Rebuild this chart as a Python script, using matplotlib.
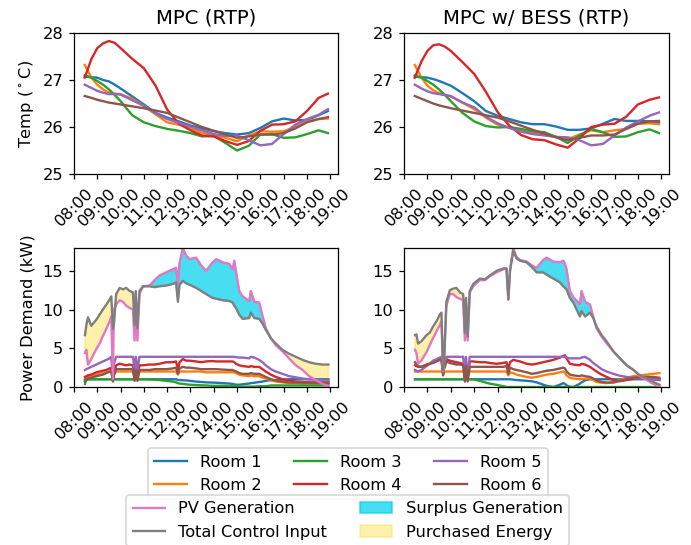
import matplotlib
matplotlib.use("Agg")
import matplotlib.pyplot as plt
import numpy as np

# ---------------- data ----------------
TICK_HOURS = list(range(8, 20))
TICK_LABELS = [f"{h:02d}:00" for h in TICK_HOURS]
ROOM_NAMES = ["Room 1", "Room 2", "Room 3", "Room 4", "Room 5", "Room 6"]
ROOM_COLORS = ["tab:blue", "tab:orange", "tab:green", "tab:red", "tab:purple", "tab:brown"]

TEMP_HOURS = [8.46, 8.75, 9.0, 9.25, 9.5, 9.75, 10.0, 10.5, 11.0, 11.5, 12.0, 12.5, 13.0,
              13.5, 14.0, 14.5, 15.0, 15.5, 16.0, 16.5, 17.0, 17.5, 18.0, 18.5, 18.9]

# MPC (RTP) temperatures
T1_L = [27.07, 27.06, 27.05, 27.0, 26.97, 26.9, 26.82, 26.65, 26.48, 26.3, 26.2, 26.12, 26.03,
        25.97, 25.91, 25.87, 25.84, 25.87, 25.98, 26.12, 26.18, 26.14, 26.15, 26.25, 26.34]
T2_L = [27.32, 27.05, 26.9, 26.8, 26.73, 26.71, 26.7, 26.6, 26.45, 26.27, 26.1, 26.05, 25.98,
        25.88, 25.82, 25.77, 25.7, 25.82, 25.91, 25.9, 25.91, 26.0, 26.12, 26.17, 26.18]
T3_L = [27.1, 27.05, 26.98, 26.9, 26.8, 26.68, 26.55, 26.25, 26.1, 26.02, 25.96, 25.92, 25.87,
        25.8, 25.81, 25.66, 25.5, 25.6, 25.84, 25.85, 25.77, 25.78, 25.85, 25.93, 25.87]
T4_L = [27.05, 27.45, 27.68, 27.78, 27.83, 27.79, 27.68, 27.45, 27.25, 26.88, 26.37, 26.07, 25.93,
        25.82, 25.8, 25.7, 25.62, 25.7, 25.92, 26.05, 26.06, 26.12, 26.34, 26.62, 26.71]
T5_L = [26.9, 26.83, 26.77, 26.73, 26.7, 26.7, 26.69, 26.57, 26.45, 26.29, 26.17, 26.09, 26.01,
        25.93, 25.85, 25.81, 25.82, 25.72, 25.61, 25.64, 25.85, 26.05, 26.17, 26.26, 26.38]
T6_L = [26.66, 26.62, 26.58, 26.55, 26.52, 26.5, 26.48, 26.44, 26.4, 26.35, 26.3, 26.2, 26.1,
        26.0, 25.92, 25.84, 25.77, 25.8, 25.84, 25.84, 25.87, 25.97, 26.1, 26.17, 26.21]

# MPC w/ BESS (RTP) temperatures
T1_R = [27.07, 27.06, 27.05, 27.02, 26.98, 26.93, 26.88, 26.72, 26.55, 26.34, 26.24, 26.17, 26.1,
        26.06, 26.06, 26.01, 25.94, 25.94, 25.97, 26.07, 26.17, 26.13, 26.13, 26.12, 26.1]
T2_R = [27.32, 27.05, 26.88, 26.78, 26.72, 26.68, 26.65, 26.52, 26.38, 26.2, 26.05, 25.99, 25.93,
        25.88, 25.84, 25.79, 25.74, 25.84, 25.93, 25.89, 25.93, 25.96, 26.07, 26.08, 26.06]
T3_R = [27.1, 27.05, 26.98, 26.9, 26.8, 26.68, 26.55, 26.3, 26.12, 26.02, 25.99, 26.0, 25.96,
        25.91, 25.89, 25.79, 25.66, 25.82, 25.96, 25.89, 25.79, 25.8, 25.89, 25.95, 25.87]
T4_R = [27.05, 27.4, 27.62, 27.74, 27.76, 27.71, 27.62, 27.38, 27.13, 26.75, 26.32, 26.03, 25.83,
        25.74, 25.72, 25.63, 25.56, 25.76, 26.0, 26.05, 26.07, 26.22, 26.48, 26.58, 26.63]
T5_R = [26.9, 26.82, 26.76, 26.72, 26.7, 26.68, 26.66, 26.52, 26.42, 26.22, 26.08, 25.98, 25.9,
        25.85, 25.82, 25.79, 25.78, 25.72, 25.61, 25.64, 25.82, 25.99, 26.12, 26.24, 26.31]
T6_R = [26.66, 26.6, 26.55, 26.5, 26.46, 26.43, 26.4, 26.35, 26.3, 26.25, 26.2, 26.12, 26.03,
        25.94, 25.86, 25.78, 25.72, 25.77, 25.82, 25.82, 25.84, 25.96, 26.07, 26.12, 26.13]

POWER_HOURS = [8.47, 8.53, 8.60, 8.74, 8.96, 9.10, 9.24, 9.39, 9.53, 9.60, 9.67, 9.71, 9.81,
               9.96, 10.10, 10.24, 10.39, 10.53, 10.60, 10.65, 10.72, 10.81, 10.96, 11.24,
               11.46, 11.67, 11.96, 12.24, 12.38, 12.46, 12.53, 12.67, 12.81, 12.96, 13.24,
               13.46, 13.67, 13.95, 14.10, 14.38, 14.67, 14.81, 14.88, 14.95, 15.09, 15.24,
               15.52, 15.59, 15.74, 15.95, 16.09, 16.23, 16.45, 16.66, 16.95, 17.23, 17.52,
               17.81, 18.09, 18.38, 18.66, 18.92]

# MPC (RTP) power
TOTAL_L = [6.7, 8.0, 9.0, 7.9, 8.7, 9.35, 10.0, 10.65, 11.3, 11.7, 7.5, 8.0, 12.0,
           12.8, 12.6, 12.8, 12.4, 12.2, 8.0, 12.4, 7.6, 12.4, 13.0, 13.0,
           12.9, 13.0, 13.1, 13.3, 13.5, 11.0, 13.2, 13.7, 13.4, 13.2, 12.8,
           12.4, 12.0, 11.5, 11.4, 11.2, 11.1, 10.9, 10.5, 10.2, 9.35, 8.8,
           8.9, 9.6, 8.9, 8.8, 8.2, 7.4, 6.3, 5.6, 4.8, 4.3, 3.9,
           3.5, 3.2, 3.0, 2.9, 2.9]
PV_L = [4.4, 4.8, 2.9, 3.6, 4.9, 5.6, 6.6, 7.5, 8.5, 9.1, 1.0, 10.0, 10.65,
        11.2, 11.0, 10.5, 10.2, 10.0, 6.0, 11.0, 6.0, 12.0, 13.0, 13.1,
        13.8, 14.4, 14.8, 15.2, 15.4, 13.3, 16.0, 17.9, 17.0, 16.5, 16.7,
        15.7, 15.0, 16.1, 16.5, 16.1, 15.9, 15.2, 16.3, 15.0, 12.4, 11.7,
        11.1, 12.4, 11.0, 10.9, 9.2, 7.6, 6.3, 5.4, 4.6, 3.7, 2.8,
        2.2, 1.4, 0.9, 0.4, 0.1]
P1_L = [0.7, 0.9, 1.0, 1.0, 1.0, 1.0, 1.0, 1.0, 1.0, 1.0, 1.0, 1.0, 1.0,
        1.0, 1.0, 1.0, 1.0, 1.0, 1.0, 1.0, 1.0, 1.0, 1.0, 1.0,
        1.0, 1.0, 1.0, 1.0, 1.0, 0.9, 0.9, 0.87, 0.85, 0.8, 0.7,
        0.65, 0.6, 0.57, 0.55, 0.5, 0.45, 0.4, 0.35, 0.3, 0.3, 0.35,
        0.45, 0.5, 0.55, 0.65, 0.7, 0.8, 0.87, 0.9, 0.95, 1.0, 1.0,
        1.0, 1.0, 1.0, 1.0, 1.0]
P2_L = [1.1, 1.2, 1.3, 1.4, 1.6, 1.7, 1.8, 1.9, 2.0, 2.0, 1.0, 1.6, 2.0,
        2.0, 2.0, 2.0, 2.0, 2.0, 1.2, 2.0, 1.2, 2.0, 2.0, 2.0,
        2.0, 2.0, 2.0, 2.0, 2.0, 1.6, 2.0, 2.0, 2.0, 2.0, 2.0,
        2.0, 1.9, 1.9, 1.9, 1.9, 1.9, 1.9, 1.9, 1.8, 1.6, 1.5,
        1.4, 1.5, 1.4, 1.4, 1.2, 1.1, 0.9, 0.7, 0.6, 0.5, 0.5,
        0.45, 0.45, 0.43, 0.43, 0.43]
P3_L = [0.4, 0.9, 1.0, 1.0, 1.0, 1.0, 1.0, 1.0, 1.0, 1.0, 1.0, 1.0, 1.0,
        1.0, 1.0, 1.0, 1.0, 1.0, 1.0, 1.0, 1.0, 1.0, 1.0, 0.98,
        0.95, 0.9, 0.8, 0.7, 0.6, 0.5, 0.45, 0.4, 0.35, 0.3, 0.25,
        0.22, 0.2, 0.15, 0.15, 0.15, 0.15, 0.15, 0.15, 0.15, 0.05, 0.05,
        0.05, 0.05, 0.05, 0.1, 0.1, 0.1, 0.2, 0.2, 0.2, 0.2, 0.2,
        0.2, 0.2, 0.2, 0.2, 0.2]
P4_L = [1.3, 1.4, 1.5, 1.6, 1.9, 2.0, 2.1, 2.2, 2.4, 2.5, 0.9, 1.8, 2.8,
        3.0, 2.9, 2.8, 2.9, 2.8, 1.1, 2.8, 1.2, 2.8, 2.8, 2.9,
        2.9, 3.0, 3.2, 3.2, 3.3, 2.2, 3.2, 3.6, 3.4, 3.4, 3.3,
        3.2, 3.3, 3.35, 3.3, 3.3, 3.3, 3.3, 3.2, 3.0, 2.8, 2.7,
        2.6, 2.7, 2.6, 2.6, 2.3, 2.0, 1.6, 1.3, 1.0, 0.85, 0.7,
        0.65, 0.6, 0.6, 0.57, 0.57]
P5_L = [2.2, 2.3, 2.4, 2.6, 2.9, 3.1, 3.3, 3.5, 3.7, 3.9, 1.0, 3.0, 3.9,
        3.9, 3.9, 3.9, 3.9, 3.9, 2.2, 3.9, 2.2, 3.9, 3.9, 3.9,
        3.9, 3.9, 3.9, 3.9, 3.9, 3.9, 3.9, 3.9, 3.9, 3.9, 3.9,
        3.9, 3.9, 3.9, 3.9, 3.9, 3.9, 3.9, 3.9, 3.85, 3.8, 3.8,
        3.7, 3.9, 3.8, 3.5, 3.2, 2.8, 2.3, 2.0, 1.7, 1.4, 1.25,
        1.1, 1.0, 0.95, 0.9, 0.9]
P6_L = [0.9, 1.0, 1.1, 1.2, 1.4, 1.5, 1.6, 1.8, 2.0, 2.0, 0.7, 1.5, 2.3,
        2.3, 2.3, 2.3, 2.3, 2.3, 0.8, 2.2, 0.8, 2.2, 2.2, 2.2,
        2.3, 2.3, 2.3, 2.4, 2.5, 1.7, 2.4, 2.6, 2.5, 2.5, 2.4,
        2.3, 2.3, 2.3, 2.3, 2.25, 2.2, 2.2, 2.1, 2.0, 1.8, 1.7,
        1.7, 1.8, 1.7, 1.7, 1.5, 1.3, 1.0, 0.85, 0.7, 0.6, 0.57,
        0.57, 0.57, 0.57, 0.57, 0.57]

# MPC w/ BESS (RTP) power
TOTAL_R = [6.7, 6.8, 5.6, 5.9, 6.7, 7.0, 7.8, 8.5, 9.35, 9.6, 2.2, 3.0, 11.0,
           12.5, 12.7, 12.8, 12.2, 12.0, 7.0, 11.5, 6.5, 12.4, 13.3, 14.0,
           13.9, 14.4, 15.0, 15.3, 15.3, 11.3, 15.0, 17.6, 16.6, 16.3, 16.1,
           15.5, 14.8, 14.8, 14.5, 14.0, 13.5, 13.0, 12.8, 12.6, 11.5, 10.9,
           9.1, 9.8, 9.1, 9.6, 8.9, 7.8, 6.7, 5.9, 4.6, 3.7, 2.8,
           2.2, 1.5, 1.1, 0.65, 0.3]
PV_R = [4.8, 4.4, 3.0, 3.4, 4.5, 5.4, 6.3, 7.2, 8.0, 8.5, 2.0, 3.3, 10.5,
        12.0, 12.0, 11.6, 11.4, 11.2, 6.0, 11.0, 6.0, 12.2, 13.0, 13.8,
        13.8, 14.3, 14.8, 15.2, 15.3, 11.3, 15.0, 17.9, 16.8, 16.4, 16.2,
        15.7, 15.4, 16.4, 16.7, 16.2, 16.1, 16.3, 15.9, 15.2, 12.4, 11.6,
        10.65, 12.4, 11.0, 10.65, 9.1, 7.6, 6.5, 5.65, 4.6, 3.7, 2.8,
        2.2, 1.4, 0.9, 0.4, 0.1]
P1_R = [1.0, 1.0, 1.0, 1.0, 1.0, 1.0, 1.0, 1.0, 1.0, 1.0, 1.0, 1.0, 1.0,
        1.0, 1.0, 1.0, 1.0, 1.0, 1.0, 1.0, 1.0, 1.0, 1.0, 1.0,
        1.0, 1.0, 1.0, 1.0, 1.0, 1.0, 1.0, 0.95, 0.9, 0.87, 0.8,
        0.74, 0.6, 0.3, 0.15, 0.0, 0.3, 0.5, 0.4, 0.2, 0.05, 0.0,
        0.43, 0.6, 0.87, 1.0, 1.0, 1.0, 1.0, 1.0, 1.0, 1.0, 1.0,
        1.0, 1.0, 1.0, 1.0, 1.0]
P2_R = [2.0, 2.0, 2.0, 2.0, 2.0, 2.0, 2.0, 2.0, 2.0, 2.0, 2.0, 2.0, 2.0,
        2.0, 2.0, 2.0, 2.0, 2.0, 2.0, 2.0, 2.0, 2.0, 2.0, 2.0,
        2.0, 2.0, 2.0, 2.0, 2.0, 1.5, 1.9, 1.8, 1.6, 1.5, 1.3,
        1.2, 1.3, 1.5, 1.6, 1.7, 1.9, 2.0, 1.8, 1.5, 1.2, 1.1,
        1.0, 1.05, 1.05, 1.1, 0.9, 0.65, 0.55, 0.5, 0.7, 0.9, 1.2,
        1.4, 1.5, 1.6, 1.7, 1.8]
P3_R = [1.0, 1.0, 1.0, 1.0, 1.0, 1.0, 1.0, 1.0, 1.0, 1.0, 1.0, 1.0, 1.0,
        1.0, 1.0, 1.0, 1.0, 1.0, 1.0, 1.0, 1.0, 1.0, 1.0, 0.8,
        0.6, 0.43, 0.28, 0.1, 0.02, 0.0, 0.0, 0.0, 0.0, 0.0, 0.0,
        0.0, 0.0, 0.0, 0.0, 0.0, 0.0, 0.0, 0.0, 0.0, 0.0, 0.0,
        0.0, 0.0, 0.0, 0.0, 0.0, 0.0, 0.0, 0.0, 0.0, 0.0, 0.0,
        0.0, 0.0, 0.0, 0.0, 0.0]
P4_R = [2.8, 2.7, 2.6, 2.6, 2.9, 3.0, 3.2, 3.4, 3.6, 3.6, 1.7, 2.5, 3.6,
        3.4, 3.3, 3.2, 3.1, 3.0, 1.1, 3.0, 1.1, 3.3, 3.3, 3.2,
        3.2, 3.1, 3.0, 3.1, 3.2, 2.2, 3.2, 3.5, 3.4, 3.3, 3.0,
        2.9, 3.0, 3.2, 3.3, 3.5, 3.8, 4.0, 4.1, 3.7, 3.0, 2.9,
        2.8, 3.0, 2.9, 2.6, 2.3, 2.0, 1.6, 1.3, 0.9, 0.75, 0.9,
        1.05, 1.1, 1.1, 1.0, 0.9]
P5_R = [2.2, 2.1, 2.0, 2.2, 2.7, 3.0, 3.4, 3.6, 3.8, 3.9, 2.0, 3.0, 3.9,
        3.9, 3.9, 3.9, 3.9, 3.9, 1.3, 3.9, 1.3, 3.9, 3.9, 3.9,
        3.9, 3.9, 3.9, 3.9, 3.9, 3.9, 3.9, 3.9, 3.9, 3.9, 3.9,
        3.9, 3.9, 3.9, 3.9, 3.9, 3.9, 3.9, 3.9, 3.8, 3.7, 3.7,
        3.7, 3.8, 3.9, 3.5, 3.1, 2.8, 2.3, 2.0, 1.7, 1.45, 1.3,
        1.15, 1.1, 1.05, 1.0, 1.0]
P6_R = [3.2, 3.0, 2.7, 2.6, 2.8, 3.0, 3.1, 3.3, 3.5, 3.5, 1.5, 2.3, 3.3,
        3.1, 3.0, 2.9, 2.9, 2.8, 0.7, 2.7, 0.7, 2.6, 2.6, 2.6,
        2.6, 2.6, 2.6, 2.6, 2.7, 1.7, 2.5, 2.3, 2.2, 2.1, 1.9,
        1.7, 1.8, 2.0, 2.1, 2.2, 2.4, 2.5, 2.4, 2.0, 1.6, 1.5,
        1.4, 1.5, 1.4, 1.3, 1.1, 0.87, 0.65, 0.57, 0.57, 0.8, 1.0,
        1.2, 1.25, 1.3, 1.3, 1.2]

TITLES = ["MPC (RTP)", "MPC w/ BESS (RTP)"]

# ---------------- figure ----------------
plt.rcParams["font.size"] = 10.4
DPI = 113
fig = plt.figure(figsize=(691 / DPI, 545 / DPI), dpi=DPI)

ax_tl = fig.add_axes([0.1071, 0.6807, 0.382, 0.2587])
ax_tr = fig.add_axes([0.5847, 0.6807, 0.3835, 0.2587])
ax_bl = fig.add_axes([0.1071, 0.2899, 0.382, 0.2551])
ax_br = fig.add_axes([0.5847, 0.2899, 0.3835, 0.2551])

temps = [[T1_L, T2_L, T3_L, T4_L, T5_L, T6_L], [T1_R, T2_R, T3_R, T4_R, T5_R, T6_R]]
powers = [[P1_L, P2_L, P3_L, P4_L, P5_L, P6_L], [P1_R, P2_R, P3_R, P4_R, P5_R, P6_R]]
pvs = [PV_L, PV_R]
totals = [TOTAL_L, TOTAL_R]

room_handles = []
for k, ax in enumerate([ax_tl, ax_tr]):
    for i in range(6):
        ln, = ax.plot(TEMP_HOURS, temps[k][i], color=ROOM_COLORS[i], label=ROOM_NAMES[i])
        if k == 0:
            room_handles.append(ln)
    ax.set_ylim(25, 28)
    ax.set_yticks([25, 26, 27, 28])
    ax.set_title(TITLES[k], fontsize=12.6)
ax_tl.set_ylabel(r"Temp ($^\circ$C)")

energy_handles = []
for k, ax in enumerate([ax_bl, ax_br]):
    t = np.array(POWER_HOURS)
    pv = np.array(pvs[k])
    tot = np.array(totals[k])
    surplus = ax.fill_between(t, pv, tot, where=pv >= tot, interpolate=True,
                              color="#00D2EE", alpha=0.72, label="Surplus Generation")
    purchased = ax.fill_between(t, pv, tot, where=tot >= pv, interpolate=True,
                                color="gold", alpha=0.33, label="Purchased Energy")
    for i in range(6):
        ax.plot(t, powers[k][i], color=ROOM_COLORS[i])
    l_pv, = ax.plot(t, pv, color="tab:pink", label="PV Generation")
    l_tot, = ax.plot(t, tot, color="tab:gray", label="Total Control Input")
    if k == 0:
        energy_handles = [l_pv, l_tot, surplus, purchased]
    ax.set_ylim(0, 17.95)
    ax.set_yticks([0, 5, 10, 15])
ax_bl.set_ylabel("Power Demand (kW)")

for ax in [ax_tl, ax_tr, ax_bl, ax_br]:
    ax.set_xlim(8, 19.33)
    ax.set_xticks(TICK_HOURS)
    ax.set_xticklabels(TICK_LABELS, rotation=45)

fig.legend(room_handles, ROOM_NAMES, loc="upper center", bbox_to_anchor=(0.503, 0.193),
           ncol=3)
fig.legend(energy_handles, [h.get_label() for h in energy_handles], loc="upper center",
           bbox_to_anchor=(0.503, 0.107), ncol=2)

fig.savefig("out.png", dpi=DPI)
